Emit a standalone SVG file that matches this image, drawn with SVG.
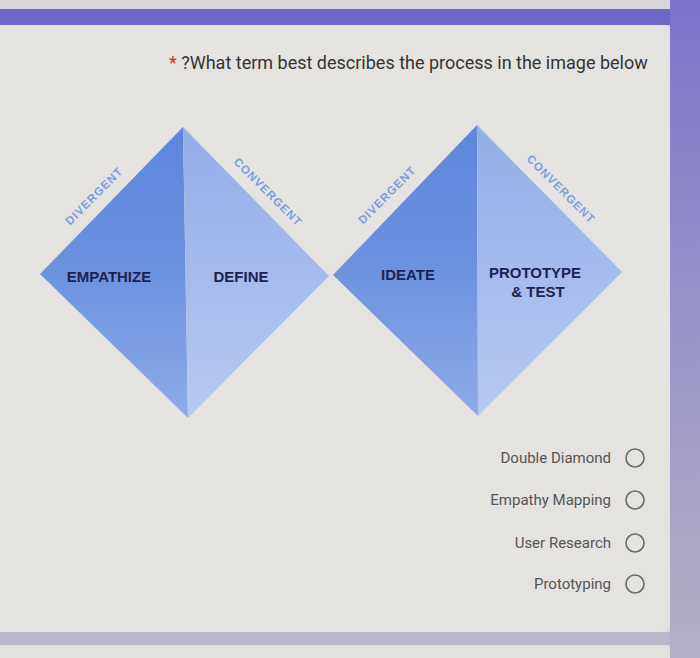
<svg xmlns="http://www.w3.org/2000/svg" width="700" height="658" viewBox="0 0 700 658">
  <defs>
    <linearGradient id="darkHalf" x1="0" y1="0" x2="0" y2="1">
      <stop offset="0" stop-color="#5f85dc"/>
      <stop offset="0.5" stop-color="#6d92e0"/>
      <stop offset="1" stop-color="#8eabe8"/>
    </linearGradient>
    <linearGradient id="lightHalf" x1="0" y1="0" x2="0" y2="1">
      <stop offset="0" stop-color="#93afe8"/>
      <stop offset="0.5" stop-color="#a4bbec"/>
      <stop offset="1" stop-color="#b8caf0"/>
    </linearGradient>
    <linearGradient id="sideBand" x1="0" y1="0" x2="0" y2="1">
      <stop offset="0" stop-color="#7b73cc"/>
      <stop offset="0.5" stop-color="#9a95c8"/>
      <stop offset="1" stop-color="#b3b0c6"/>
    </linearGradient>
    <style>
      .stage { font-family: "Liberation Sans", Arial, sans-serif; font-weight: bold; font-size: 15px; fill: #1c2350; text-anchor: middle; }
      .phase { font-family: "Liberation Sans", Arial, sans-serif; font-weight: bold; font-size: 11.5px; fill: #7e9ce0; text-anchor: middle; letter-spacing: 1px; }
      .opt { font-family: Roboto, "Liberation Sans", sans-serif; font-size: 15px; fill: #555555; text-anchor: end; }
      .radio { fill: none; stroke: #6a6a6a; stroke-width: 1.6; }
      .q { font-family: Roboto, "Liberation Sans", sans-serif; font-size: 18px; fill: #333333; }
    </style>
  </defs>

  <!-- background / page frame -->
  <rect x="0" y="0" width="700" height="658" fill="#d9d7dc"/>
  <rect x="0" y="9" width="700" height="16" fill="#6e67c9"/>
  <rect x="670" y="0" width="30" height="658" fill="url(#sideBand)"/>
  <rect x="-10" y="-10" width="680" height="18" rx="6" fill="#d8d6db"/>
  <rect x="-10" y="25" width="680" height="607" rx="7" fill="#e5e3df"/>
  <rect x="0" y="632" width="700" height="13" fill="#b9b7c9"/>
  <rect x="-10" y="645" width="680" height="30" rx="6" fill="#e3e1dd"/>
  <rect x="670" y="632" width="30" height="26" fill="#b3b0c6"/>

  <!-- question -->
  <g id="question">
    <text x="169" y="69" class="q"><tspan fill="#d93025">*</tspan> ?What term best describes the process in the image below</text>
  </g>

  <!-- left diamond -->
  <g id="diamond-left">
    <polygon points="183,127 40,274 188,418" fill="url(#darkHalf)"/>
    <polygon points="183,127 329,276 188,418" fill="url(#lightHalf)"/>
  </g>
  <!-- right diamond -->
  <g id="diamond-right">
    <polygon points="477,125 333,275 478,416" fill="url(#darkHalf)"/>
    <polygon points="477,125 622,272 478,416" fill="url(#lightHalf)"/>
  </g>

  <!-- phase labels -->
  <g id="phase-labels">
    <text class="phase" transform="translate(94,196) rotate(-45)" dominant-baseline="central">DIVERGENT</text>
    <text class="phase" transform="translate(268,192) rotate(45)" dominant-baseline="central">CONVERGENT</text>
    <text class="phase" transform="translate(387,195) rotate(-45)" dominant-baseline="central">DIVERGENT</text>
    <text class="phase" transform="translate(561,189) rotate(45)" dominant-baseline="central">CONVERGENT</text>
  </g>

  <!-- stage labels -->
  <g id="stage-empathize"><text class="stage" x="109" y="282">EMPATHIZE</text></g>
  <g id="stage-define"><text class="stage" x="241" y="282">DEFINE</text></g>
  <g id="stage-ideate"><text class="stage" x="408" y="280">IDEATE</text></g>
  <g id="stage-prototype"><text class="stage" x="535" y="278">PROTOTYPE</text><text class="stage" x="538" y="297">&amp; TEST</text></g>

  <!-- options -->
  <g id="option-double-diamond">
    <text class="opt" x="611" y="463">Double Diamond</text>
    <circle class="radio" cx="635" cy="458" r="9"/>
  </g>
  <g id="option-empathy-mapping">
    <text class="opt" x="611" y="505">Empathy Mapping</text>
    <circle class="radio" cx="635" cy="500" r="9"/>
  </g>
  <g id="option-user-research">
    <text class="opt" x="611" y="548">User Research</text>
    <circle class="radio" cx="635" cy="543" r="9"/>
  </g>
  <g id="option-prototyping">
    <text class="opt" x="611" y="589">Prototyping</text>
    <circle class="radio" cx="635" cy="584" r="9"/>
  </g>
</svg>
